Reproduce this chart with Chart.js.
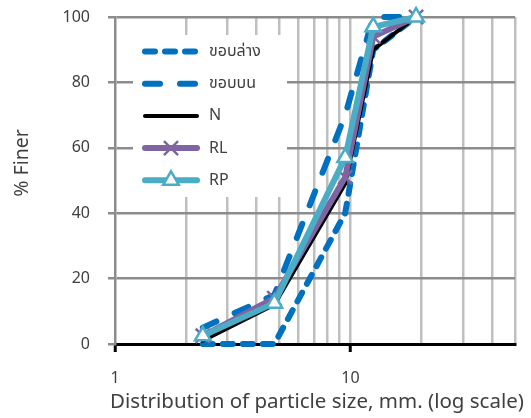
<!DOCTYPE html>
<html><head><meta charset="utf-8">
<script src="https://cdn.jsdelivr.net/npm/chart.js@4/dist/chart.umd.min.js"></script>
<style>html,body{margin:0;padding:0;background:#fff}#wrap{width:531px;height:418px}</style>
</head><body><div id="wrap"><canvas id="c" width="531" height="418"></canvas></div>
<script>
const sieveSizes = [2.36, 4.75, 9.5, 12.5, 19];
const lowerBound = [0, 0, 40, 90, 100];
const upperBound = [5, 15, 70, 100, 100];
const seriesN  = [1, 12, 49, 90, 100];
const seriesRL = [2.5, 14, 51, 94, 100];
const seriesRP = [2.5, 12.5, 57, 97, 100];
const seriesNames = ['ขอบล่าง', 'ขอบบน', 'N', 'RL', 'RP'];
const xTickValues = [1,2,3,4,5,6,7,8,9,10,20,30,40,50];
const xTickLabels = {1:'1', 10:'10'};
const yTickValues = [0,20,40,60,80,100];
const xTitle = 'Distribution of particle size, mm. (log scale)';
const yTitle = '% Finer';

const FONT = "'Noto Sans', 'Noto Sans Thai', 'DejaVu Sans', sans-serif";
const TXT = '#404040';
const pts = arr => arr.map((v, i) => ({x: sieveSizes[i], y: v}));

const common = {borderCapStyle:'round', borderJoinStyle:'round', clip:false, tension:0, fill:false};
const datasets = [
  Object.assign({label: seriesNames[0], data: pts(lowerBound), borderColor:'#0070C0', borderWidth:6, borderDash:[10,10], pointRadius:0, order:5}, common),
  Object.assign({label: seriesNames[1], data: pts(upperBound), borderColor:'#0070C0', borderWidth:6, borderDash:[15,20], pointRadius:0, order:4}, common),
  Object.assign({label: seriesNames[2], data: pts(seriesN), borderColor:'#000000', borderWidth:4, pointRadius:0, order:3}, common),
  Object.assign({label: seriesNames[3], data: pts(seriesRL), borderColor:'#8064A2', borderWidth:6, pointStyle:'crossRot', pointRadius:10, pointBorderWidth:2.5, pointBorderColor:'#8064A2', pointBackgroundColor:'#8064A2', order:2}, common),
  Object.assign({label: seriesNames[4], data: pts(seriesRP), borderColor:'#4BACC6', borderWidth:6, pointStyle:'triangle', pointRadius:9, pointBorderWidth:2.5, pointBorderColor:'#4BACC6', pointBackgroundColor:'#ffffff', order:1}, common)
];

const legendPlugin = {
  id: 'insideLegend',
  beforeDatasetsDraw(chart) {
    const ctx = chart.ctx;
    ctx.save();
    ctx.fillStyle = '#ffffff';
    ctx.fillRect(133, 35, 154, 162);
    datasets.forEach((ds, i) => {
      const y = 51.5 + i * 32.2;
      ctx.save();
      ctx.strokeStyle = ds.borderColor;
      ctx.lineWidth = ds.borderWidth;
      ctx.lineCap = 'round';
      ctx.setLineDash(ds.borderDash || []);
      ctx.beginPath(); ctx.moveTo(145, y); ctx.lineTo(197, y); ctx.stroke();
      ctx.restore();
      if (ds.pointRadius > 0) {
        ctx.save();
        ctx.strokeStyle = ds.pointBorderColor;
        ctx.fillStyle = ds.pointBackgroundColor;
        ctx.lineWidth = ds.pointBorderWidth;
        Chart.helpers.drawPoint(ctx, {pointStyle: ds.pointStyle, radius: ds.pointRadius, rotation: 0, borderWidth: ds.pointBorderWidth}, 171, y);
        ctx.restore();
      }
      ctx.fillStyle = TXT;
      ctx.font = '16px ' + FONT;
      ctx.textAlign = 'left'; ctx.textBaseline = 'middle';
      ctx.fillText(ds.label, 209, y);
    });
    ctx.restore();
  },
  afterDraw(chart) {
    const ctx = chart.ctx, a = chart.chartArea;
    ctx.save();
    ctx.fillStyle = TXT;
    ctx.textAlign = 'center'; ctx.textBaseline = 'middle';
    ctx.font = '20.5px ' + FONT;
    ctx.fillText(xTitle, (a.left + a.right) / 2 + 2, 402);
    ctx.font = '19.5px ' + FONT;
    ctx.translate(22, 163);
    ctx.rotate(-Math.PI / 2);
    ctx.fillText(yTitle, 0, 0);
    ctx.restore();
  }
};

new Chart(document.getElementById('c'), {
  type: 'line',
  data: { datasets },
  plugins: [legendPlugin],
  options: {
    responsive: false,
    animation: false,
    events: [],
    layout: { padding: { top: 17, right: 16, left: 0, bottom: 0 } },
    plugins: { legend: { display: false }, tooltip: { enabled: false } },
    scales: {
      x: {
        type: 'logarithmic', min: 1, max: 50,
        afterBuildTicks: s => { s.ticks = xTickValues.map(v => ({value: v})); },
        afterFit: s => { s.height = 74; s.paddingLeft = 0; s.paddingRight = 0; },
        grid: {
          color: c => (c.tick && c.tick.value === 1) ? 'rgba(0,0,0,0)' : '#BFBFBF',
          lineWidth: 2.5,
          tickLength: 8,
          tickWidth: 3,
          tickColor: c => (c.tick && xTickLabels[c.tick.value]) ? '#000000' : 'rgba(0,0,0,0)'
        },
        border: { color: '#000000', width: 3 },
        ticks: {
          autoSkip: false, maxRotation: 0, padding: 17,
          color: TXT, font: { size: 16, family: FONT },
          callback: v => xTickLabels[v] || ''
        }
      },
      y: {
        min: 0, max: 100,
        afterBuildTicks: s => { s.ticks = yTickValues.map(v => ({value: v})); },
        afterFit: s => { s.width = 115; s.paddingTop = 0; s.paddingBottom = 0; },
        grid: {
          color: c => (c.tick && c.tick.value === 0) ? 'rgba(0,0,0,0)' : '#8C8C8C',
          lineWidth: 2.5, tickLength: 7, tickColor: '#8C8C8C'
        },
        border: { color: '#8C8C8C', width: 2.5 },
        ticks: { padding: 18, color: TXT, font: { size: 16, family: FONT } }
      }
    }
  }
});
</script></body></html>
